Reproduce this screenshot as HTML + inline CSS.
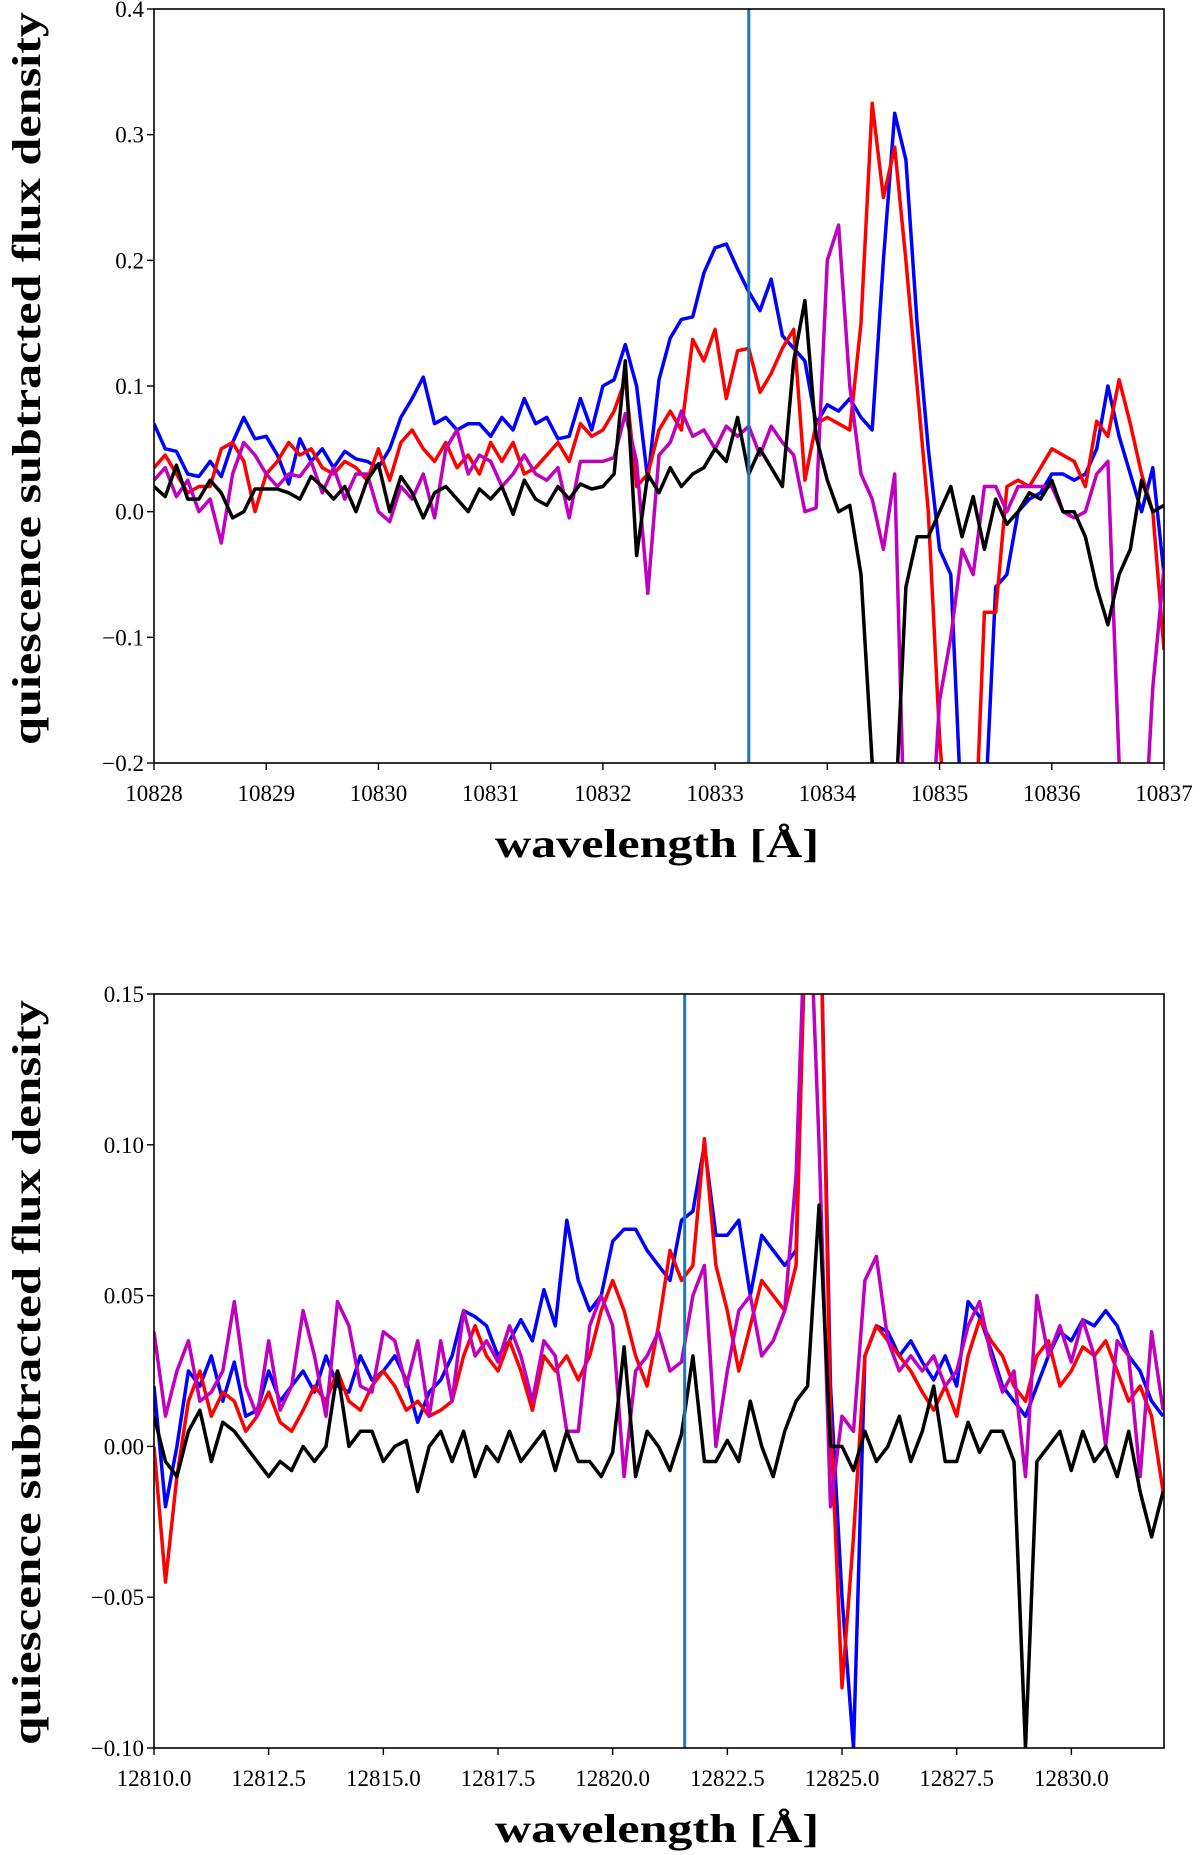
<!DOCTYPE html>
<html><head><meta charset="utf-8"><style>
html,body{margin:0;padding:0;background:#fff;}
svg{display:block;}
text{font-family:"Liberation Serif","DejaVu Serif",serif;}
</style></head><body>
<svg id="fig" width="1200" height="1855" viewBox="0 0 1200 1855" xmlns="http://www.w3.org/2000/svg"></svg>
<script>
// ---- Panel 1 data (He I 10830) ----
const p1Start = 10828, p1Step = 0.1;
const p1Blue = [0.07,0.05,0.048,0.03,0.028,0.04,0.028,0.055,0.075,0.058,
0.06,0.045,0.022,0.058,0.04,0.05,0.035,0.048,0.042,0.04,
0.035,0.05,0.075,0.09,0.107,0.07,0.075,0.065,0.07,0.07,
0.06,0.075,0.065,0.09,0.07,0.075,0.058,0.06,0.09,0.065,
0.1,0.105,0.133,0.1,0.025,0.105,0.138,0.153,0.155,0.19,
0.21,0.213,0.193,0.175,0.16,0.185,0.14,0.13,0.12,0.07,
0.085,0.08,0.09,0.075,0.065,0.2,0.317,0.28,0.15,0.05,
-0.03,-0.05,-0.25,-0.3,-0.25,-0.06,-0.05,0.0,0.01,0.015,
0.03,0.03,0.025,0.03,0.05,0.1,0.06,0.03,0.0,0.035,-0.05];
const p1Red = [0.035,0.045,0.03,0.015,0.02,0.02,0.05,0.055,0.04,0.0,
0.03,0.04,0.055,0.045,0.05,0.035,0.03,0.04,0.035,0.025,
0.05,0.025,0.055,0.065,0.05,0.04,0.055,0.035,0.045,0.03,
0.055,0.04,0.055,0.03,0.035,0.045,0.055,0.04,0.07,0.06,
0.065,0.08,0.105,0.02,0.03,0.065,0.08,0.065,0.137,0.12,
0.145,0.09,0.128,0.13,0.095,0.11,0.13,0.145,0.025,0.07,
0.075,0.07,0.065,0.15,0.325,0.25,0.29,0.2,0.1,0.0,
-0.18,-0.3,-0.3,-0.3,-0.08,-0.08,0.02,0.025,0.02,0.035,
0.05,0.045,0.04,0.02,0.072,0.06,0.105,0.07,0.03,0.0,-0.11];
const p1Magenta = [0.025,0.035,0.012,0.025,0.0,0.01,-0.025,0.03,0.055,0.045,
0.03,0.02,0.03,0.028,0.04,0.015,0.035,0.01,0.03,0.03,
0.0,-0.008,0.02,0.01,0.03,-0.005,0.05,0.065,0.03,0.045,
0.04,0.02,0.03,0.045,0.03,0.025,0.035,-0.005,0.04,0.04,
0.04,0.043,0.078,0.04,-0.065,0.045,0.055,0.08,0.06,0.065,
0.05,0.068,0.06,0.068,0.045,0.068,0.055,0.045,0.0,0.003,
0.2,0.228,0.1,0.03,0.01,-0.03,0.03,-0.3,-0.3,-0.3,
-0.15,-0.1,-0.03,-0.05,0.02,0.02,0.0,0.02,0.02,0.02,
0.02,0.0,-0.005,0.0,0.03,0.04,-0.2,-0.3,-0.3,-0.14,-0.045];
const p1Black = [0.02,0.012,0.037,0.01,0.01,0.025,0.015,-0.005,0.0,0.018,
0.018,0.018,0.015,0.01,0.028,0.02,0.01,0.02,0.0,0.025,
0.038,0.0,0.028,0.015,-0.005,0.015,0.02,0.01,0.0,0.018,
0.01,0.02,-0.002,0.025,0.01,0.005,0.02,0.01,0.022,0.018,
0.02,0.03,0.12,-0.035,0.03,0.015,0.035,0.02,0.03,0.035,
0.05,0.04,0.075,0.03,0.05,0.035,0.02,0.12,0.168,0.06,
0.025,0.0,0.005,-0.05,-0.2,-0.3,-0.25,-0.06,-0.02,-0.02,
0.0,0.02,-0.02,0.012,-0.03,0.01,-0.01,0.0,0.015,0.01,
0.025,0.0,0.0,-0.02,-0.06,-0.09,-0.05,-0.03,0.025,0.0,0.005];
const p1XTicks = ["10828","10829","10830","10831","10832","10833","10834","10835","10836","10837"];
const p1YTicks = ["0.4","0.3","0.2","0.1","0.0","\u22120.1","\u22120.2"];
const p1YTickVals = [0.4,0.3,0.2,0.1,0.0,-0.1,-0.2];
const p1Line = 10833.3;

// ---- Panel 2 data (Pa beta 12820) ----
const p2Start = 12810, p2Step = 0.25;
const p2Blue = [0.02,-0.02,0.0,0.025,0.02,0.03,0.015,0.028,0.01,0.012,0.025,0.015,0.02,0.025,0.018,0.03,0.02,0.018,0.03,0.022,
0.025,0.03,0.022,0.008,0.018,0.022,0.03,0.045,0.043,0.04,0.03,0.035,0.042,0.035,0.052,0.04,0.075,0.055,0.045,0.05,
0.068,0.072,0.072,0.065,0.06,0.055,0.075,0.078,0.1,0.07,0.07,0.075,0.05,0.07,0.065,0.06,0.065,0.2,0.2,0.02,
-0.05,-0.1,0.03,0.04,0.038,0.03,0.035,0.028,0.022,0.03,0.02,0.048,0.043,0.032,0.02,0.015,0.01,0.02,0.03,0.038,
0.035,0.042,0.04,0.045,0.04,0.03,0.025,0.015,0.01];
const p2Red = [0.0,-0.045,-0.01,0.015,0.025,0.01,0.018,0.015,0.005,0.01,0.018,0.008,0.005,0.012,0.02,0.015,0.025,0.015,0.012,0.02,
0.025,0.02,0.012,0.015,0.01,0.012,0.015,0.03,0.04,0.03,0.025,0.035,0.025,0.012,0.03,0.025,0.03,0.022,0.03,0.045,
0.055,0.045,0.03,0.02,0.04,0.065,0.055,0.06,0.102,0.06,0.045,0.025,0.04,0.055,0.05,0.045,0.06,0.2,0.2,0.01,
-0.08,-0.03,0.03,0.04,0.035,0.03,0.025,0.018,0.012,0.02,0.01,0.03,0.042,0.035,0.03,0.02,0.015,0.03,0.035,0.02,
0.025,0.033,0.03,0.035,0.025,0.015,0.02,0.01,-0.015];
const p2Magenta = [0.038,0.01,0.025,0.035,0.015,0.018,0.025,0.048,0.02,0.01,0.035,0.012,0.02,0.045,0.03,0.01,0.048,0.04,0.02,0.018,
0.038,0.035,0.02,0.035,0.01,0.035,0.015,0.045,0.03,0.035,0.028,0.04,0.03,0.015,0.035,0.03,0.005,0.005,0.04,0.05,
0.04,-0.01,0.025,0.03,0.038,0.025,0.028,0.05,0.06,0.0,0.025,0.045,0.05,0.03,0.035,0.045,0.09,0.2,0.1,-0.02,
0.01,0.005,0.055,0.063,0.035,0.025,0.03,0.025,0.03,0.02,0.025,0.04,0.048,0.03,0.018,0.025,-0.01,0.05,0.03,0.04,
0.028,0.042,0.03,0.0,0.035,0.03,-0.01,0.038,0.012];
const p2Black = [0.01,-0.005,-0.01,0.005,0.012,-0.005,0.008,0.005,0.0,-0.005,-0.01,-0.005,-0.008,0.0,-0.005,0.0,0.025,0.0,0.005,0.005,
-0.005,0.0,0.002,-0.015,0.0,0.005,-0.005,0.005,-0.01,0.0,-0.005,0.005,-0.005,0.0,0.005,-0.008,0.005,-0.005,-0.005,-0.01,
-0.002,0.033,-0.01,0.005,0.0,-0.008,0.004,0.03,-0.005,-0.005,0.002,-0.005,0.015,0.0,-0.01,0.005,0.015,0.02,0.08,0.0,
0.0,-0.008,0.005,-0.005,0.0,0.01,-0.005,0.005,0.02,-0.005,-0.005,0.008,-0.002,0.005,0.005,-0.005,-0.1,-0.005,0.0,0.005,
-0.008,0.005,-0.005,0.0,-0.01,0.005,-0.015,-0.03,-0.015];
const p2XTicks = ["12810.0","12812.5","12815.0","12817.5","12820.0","12822.5","12825.0","12827.5","12830.0"];
const p2XTickVals = [12810,12812.5,12815,12817.5,12820,12822.5,12825,12827.5,12830];
const p2YTicks = ["0.15","0.10","0.05","0.00","\u22120.05","\u22120.10"];
const p2YTickVals = [0.15,0.10,0.05,0.0,-0.05,-0.10];
const p2Line = 12821.57;

const NS = "http://www.w3.org/2000/svg";
const svg = document.getElementById('fig');
function el(tag, attrs, parent){ const e=document.createElementNS(NS,tag); for(const k in attrs) e.setAttribute(k,attrs[k]); (parent||svg).appendChild(e); return e; }

function panel(id, cfg){
  const L=154, R=1164, T=cfg.top, B=cfg.bottom;
  const xs = v => L + (v-cfg.xmin)/(cfg.xmax-cfg.xmin)*(R-L);
  const ys = v => T + (cfg.ymax-v)/(cfg.ymax-cfg.ymin)*(B-T);
  const g = el('g',{});
  
  
  const defs = el('defs',{},g);
  const cp = el('clipPath',{id:id+'-clip'},defs);
  el('rect',{x:L,y:T,width:R-L,height:B-T},cp);
  const plot = el('g',{'clip-path':'url(#'+id+'-clip)'},g);
  cfg.series.forEach(s=>{
    const pts = s.data.map((v,i)=>xs(cfg.start+i*cfg.step).toFixed(1)+','+ys(v).toFixed(1)).join(' ');
    const p = el('polyline',{points:pts,fill:'none',stroke:s.color,'stroke-width':3.5,'stroke-linejoin':'round'},plot);
    
    
  });
  const vl = el('line',{x1:xs(cfg.line),x2:xs(cfg.line),y1:T,y2:B,stroke:'#1f77b4','stroke-width':3},plot);
  
  
  const fr = el('rect',{x:L,y:T,width:R-L,height:B-T,fill:'none',stroke:'#000','stroke-width':1.6},g);
  
  
  cfg.xTickVals.forEach((v,i)=>{
    const x=xs(v);
    el('line',{x1:x,x2:x,y1:B,y2:B+7,stroke:'#000','stroke-width':1.4},g);
    const t=el('text',{x:x,y:B+38,'text-anchor':'middle','font-size':23},g);
    t.textContent=cfg.xTicks[i];
    
    
  });
  cfg.yTickVals.forEach((v,i)=>{
    const y=ys(v);
    el('line',{x1:L-7,x2:L,y1:y,y2:y,stroke:'#000','stroke-width':1.4},g);
    const t=el('text',{x:L-10,y:y+8,'text-anchor':'end','font-size':23},g);
    t.textContent=cfg.yTicks[i];
    
    
  });
  const xl=el('text',{x:657,y:cfg.xlabelY,'text-anchor':'middle','font-size':40,'font-weight':'bold',textLength:324,lengthAdjust:'spacingAndGlyphs'},g);
  xl.textContent='wavelength [\u00C5]';
  
  
  const cy=(cfg.ylabT+cfg.ylabB)/2;
  const yl=el('text',{x:0,y:0,transform:'translate(40,'+cy+') rotate(-90)','text-anchor':'middle','font-size':40,'font-weight':'bold',textLength:cfg.ylabB-cfg.ylabT,lengthAdjust:'spacingAndGlyphs'},g);
  yl.textContent='quiescence subtracted flux density';
  
  
}

panel('top',{top:9,bottom:763,xmin:10828,xmax:10837,ymin:-0.2,ymax:0.4,start:p1Start,step:p1Step,line:p1Line,
  xTicks:p1XTicks,xTickVals:p1XTicks.map(Number),yTicks:p1YTicks,yTickVals:p1YTickVals,xlabelY:857,ylabT:12,ylabB:745,
  series:[{name:'blue',color:'#0000ff',data:p1Blue},{name:'red',color:'#ff0000',data:p1Red},{name:'magenta',color:'#bf00bf',data:p1Magenta},{name:'black',color:'#000000',data:p1Black}]});
panel('bottom',{top:994,bottom:1748,xmin:12810,xmax:12832.02,ymin:-0.10,ymax:0.15,start:p2Start,step:p2Step,line:p2Line,
  xTicks:p2XTicks,xTickVals:p2XTickVals,yTicks:p2YTicks,yTickVals:p2YTickVals,xlabelY:1842,ylabT:1000,ylabB:1745,
  series:[{name:'blue',color:'#0000ff',data:p2Blue},{name:'red',color:'#ff0000',data:p2Red},{name:'magenta',color:'#bf00bf',data:p2Magenta},{name:'black',color:'#000000',data:p2Black}]});
</script>
</body></html>
